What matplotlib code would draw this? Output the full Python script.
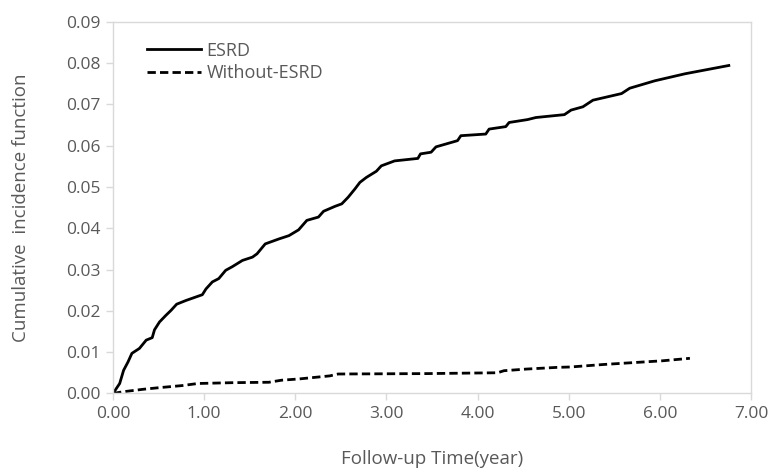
import matplotlib.pyplot as plt

plt.rcParams['font.family'] = ['Open Sans', 'DejaVu Sans']

# Curvas
esrd_t = [0, 0.073, 0.116, 0.164, 0.207, 0.29, 0.364, 0.43, 0.455, 0.51, 0.58, 0.636,
          0.698, 0.8, 0.98, 1.02, 1.09, 1.16, 1.236, 1.31, 1.42, 1.53, 1.58, 1.67,
          1.82, 1.93, 2.036, 2.127, 2.254, 2.31, 2.436, 2.51, 2.58, 2.654, 2.709,
          2.78, 2.89, 2.944, 3.09, 3.345, 3.374, 3.49, 3.544, 3.78, 3.817, 4.09,
          4.127, 4.31, 4.346, 4.548, 4.64, 4.953, 5.026, 5.156, 5.266, 5.58, 5.67,
          5.946, 6.278, 6.757]
esrd_cif = [0, 0.0024, 0.0056, 0.0076, 0.0097, 0.0109, 0.0129, 0.0135, 0.0154, 0.0173,
            0.0189, 0.0201, 0.0216, 0.0225, 0.0239, 0.0253, 0.027, 0.0278, 0.0298,
            0.0307, 0.0322, 0.033, 0.0338, 0.0362, 0.0374, 0.0382, 0.0396, 0.0419,
            0.0427, 0.0441, 0.0453, 0.0459, 0.0475, 0.0495, 0.0511, 0.0523, 0.0538,
            0.0551, 0.0563, 0.0569, 0.058, 0.0584, 0.0597, 0.0612, 0.0624, 0.0628,
            0.064, 0.0646, 0.0656, 0.0663, 0.0668, 0.0675, 0.0686, 0.0694, 0.071,
            0.0726, 0.0739, 0.0757, 0.0774, 0.0794]

no_esrd_t = [0, 0.11, 0.33, 0.51, 0.76, 0.93, 1.31, 1.71, 1.85, 2.04, 2.38, 2.47,
             3.45, 4.22, 4.29, 4.54, 4.87, 5.02, 5.38, 5.74, 6.03, 6.33]
no_esrd_cif = [0, 0.0004, 0.001, 0.0014, 0.0019, 0.0024, 0.0026, 0.0027, 0.0032,
               0.0035, 0.00425, 0.0047, 0.0048, 0.005, 0.0055, 0.0059, 0.0063,
               0.0064, 0.007, 0.0075, 0.0079, 0.0085]

xticks = [0, 1, 2, 3, 4, 5, 6, 7]
yticks = [0, 0.01, 0.02, 0.03, 0.04, 0.05, 0.06, 0.07, 0.08, 0.09]

gris = '#595959'
borde = '#D9D9D9'

fig = plt.figure(figsize=(7.71, 4.72), dpi=100)
ax = fig.add_axes([0.1466, 0.1665, 0.8274, 0.7875])

ax.plot(esrd_t, esrd_cif, color='black', lw=2.0, label='ESRD')
ax.plot(no_esrd_t, no_esrd_cif, color='black', lw=2.0, dashes=(3, 1.5),
        label='Without-ESRD')

ax.set_xlim(0, 7)
ax.set_ylim(0, 0.09)
ax.set_xticks(xticks)
ax.set_yticks(yticks)
ax.set_xticklabels(['%.2f' % v for v in xticks])
ax.set_yticklabels(['%.2f' % v for v in yticks])
ax.tick_params(colors=borde, labelcolor=gris, labelsize=12.5, length=5, width=1, pad=4)

for s in ax.spines.values():
    s.set_color(borde)
    s.set_linewidth(1)

ax.set_xlabel('Follow-up Time(year)', color=gris, fontsize=13.5, labelpad=20)
ax.set_ylabel('Cumulative  incidence function', color=gris, fontsize=13.5, labelpad=26)

leg = ax.legend(loc='upper left', bbox_to_anchor=(0.028, 0.99), frameon=False,
                fontsize=13, handlelength=3.0, handletextpad=0.3, labelspacing=0.25)
for t in leg.get_texts():
    t.set_color(gris)

fig.savefig('out.png', dpi=100)
